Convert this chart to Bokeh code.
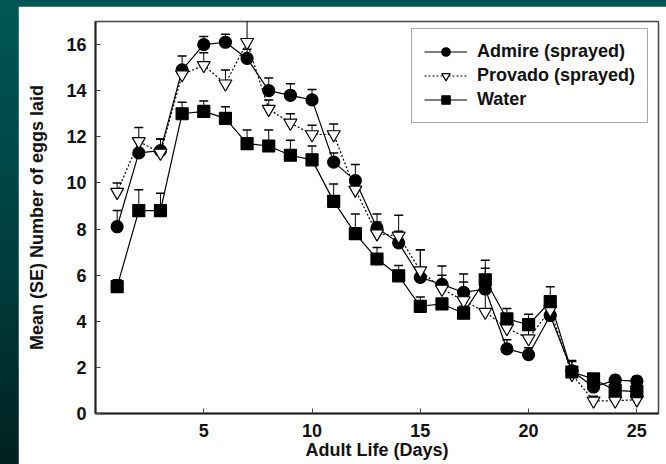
from bokeh.plotting import figure
from bokeh.models import ColumnDataSource, Whisker, TeeHead, Legend, LegendItem, Range1d, FixedTicker
from bokeh.layouts import column
from bokeh.embed import file_html
from bokeh.resources import INLINE

days = list(range(1, 26))
admire = [8.1, 11.3, 11.4, 14.9, 16.0, 16.1, 15.4, 14.0, 13.8, 13.6, 10.9, 10.1, 8.05, 7.4, 5.9,
          5.6, 5.25, 5.4, 2.8, 2.55, 4.25, 1.85, 1.15, 1.45, 1.4]
admire_se = [0.7, 0.5, 0.5, 0.6, 0.35, 0.35, 0.4, 0.55, 0.5, 0.45, 0.4, 0.7, 0.6, 0.5, 1.2,
             0.8, 0.8, 0.9, 0.4, 0.3, 0.5, 0.4, 0.3, 0.2, 0.2]
provado = [9.6, 11.8, 11.3, 14.7, 15.1, 14.3, 16.1, 13.2, 12.6, 12.1, 12.1, 9.7, 7.8, 7.7, 6.2,
           5.4, 4.9, 4.4, 3.7, 3.25, 4.5, 1.7, 0.55, 0.55, 0.6]
provado_se = [0.4, 0.6, 0.6, 0.3, 0.55, 0.6, 1.0, 0.4, 0.4, 0.4, 0.45, 0.5, 0.5, 0.9, 0.9,
              0.6, 0.8, 0.8, 0.4, 0.5, 0.5, 0.3, 0.2, 0.2, 0.2]
water = [5.5, 8.8, 8.8, 13.0, 13.1, 12.8, 11.7, 11.6, 11.2, 11.0, 9.2, 7.8, 6.7, 5.97, 4.65,
         4.75, 4.35, 5.8, 4.1, 3.85, 4.85, 1.8, 1.5, 1.0, 0.95]
water_se = [0.3, 0.9, 0.75, 0.5, 0.45, 0.5, 0.6, 0.7, 0.65, 0.6, 0.75, 0.85, 0.5, 0.45, 0.4,
            0.2, 0.3, 0.85, 0.45, 0.45, 0.65, 0.5, 0.2, 0.2, 0.2]

x_ticks = [5, 10, 15, 20, 25]
y_ticks = [0, 2, 4, 6, 8, 10, 12, 14, 16]

FONT = "Liberation Sans"

p = figure(width=648, height=458, output_backend="svg", toolbar_location=None,
           x_range=Range1d(0, 26), y_range=Range1d(0, 17),
           min_border_left=77, min_border_right=8, min_border_top=15, min_border_bottom=51)
p.margin = (6, 0, 0, 18)
p.background_fill_color = "white"
p.border_fill_color = "white"
p.outline_line_color = "#444444"
p.outline_line_width = 1.5
p.grid.visible = False

for ax in (p.xaxis[0], p.yaxis[0]):
    ax.major_tick_in = 5
    ax.major_tick_out = 0
    ax.minor_tick_in = 0
    ax.minor_tick_out = 0
    ax.axis_line_width = 2
    ax.axis_line_color = "#222222"
    ax.major_tick_line_color = "#444444"
    ax.major_label_text_font = FONT
    ax.major_label_text_font_style = "bold"
    ax.major_label_text_font_size = "18px"
    ax.major_label_text_color = "#111111"
    ax.axis_label_text_font = FONT
    ax.axis_label_text_font_style = "bold"
    ax.axis_label_text_font_size = "18px"
    ax.axis_label_text_color = "#111111"

p.xaxis.ticker = FixedTicker(ticks=x_ticks)
p.yaxis.ticker = FixedTicker(ticks=y_ticks)
p.xaxis.axis_label = "Adult Life (Days)"
p.yaxis.axis_label = "Mean (SE) Number of eggs laid"
p.xaxis.major_label_standoff = 10
p.yaxis.major_label_standoff = 9
p.xaxis.axis_label_standoff = 0
p.yaxis.axis_label_standoff = 16

series = [
    ("Admire (sprayed)", admire, admire_se, "circle", "black", "solid", 12),
    ("Provado (sprayed)", provado, provado_se, "inverted_triangle", "white", "2 2", 13),
    ("Water", water, water_se, "square", "black", "solid", 12),
]

for label, vals, se, marker, fill, dash, size in series:
    upper = [v + s for v, s in zip(vals, se)]
    src = ColumnDataSource(dict(x=days, y=vals, upper=upper))
    w = Whisker(base="x", upper="upper", lower="y", source=src, line_color="black", line_width=1,
                upper_head=TeeHead(size=9, line_color="black", line_width=1.5), lower_head=None)
    p.add_layout(w)

renderers = {}
for label, vals, se, marker, fill, dash, size in series:
    src = ColumnDataSource(dict(x=days, y=vals))
    ln = p.line("x", "y", source=src, line_color="black", line_width=1.2, line_dash=dash)
    renderers[label] = [ln]
items = []
for label, vals, se, marker, fill, dash, size in series:
    src = ColumnDataSource(dict(x=days, y=vals))
    sc = p.scatter("x", "y", source=src, marker=marker, size=size, fill_color=fill,
                   line_color="black", line_width=1.2)
    renderers[label].append(sc)
    items.append(LegendItem(label=label, renderers=renderers[label]))

legend = Legend(items=items, location=(316, 290))
legend.label_text_font = FONT
legend.label_text_font_style = "bold"
legend.label_text_font_size = "18px"
legend.label_text_color = "#111111"
legend.glyph_width = 43
legend.glyph_height = 21
legend.label_height = 21
legend.spacing = 3
legend.padding = 12
legend.label_standoff = 10
legend.border_line_color = "#555555"
legend.border_line_width = 1.5
legend.background_fill_color = "white"
legend.background_fill_alpha = 1
p.add_layout(legend, "center")

layout = column(p, width=666, height=464,
                styles={"background": "linear-gradient(to bottom, #005656 0%, #003c3c 60%, #002020 100%)"})

open("out.html", "w").write(file_html(layout, INLINE))
